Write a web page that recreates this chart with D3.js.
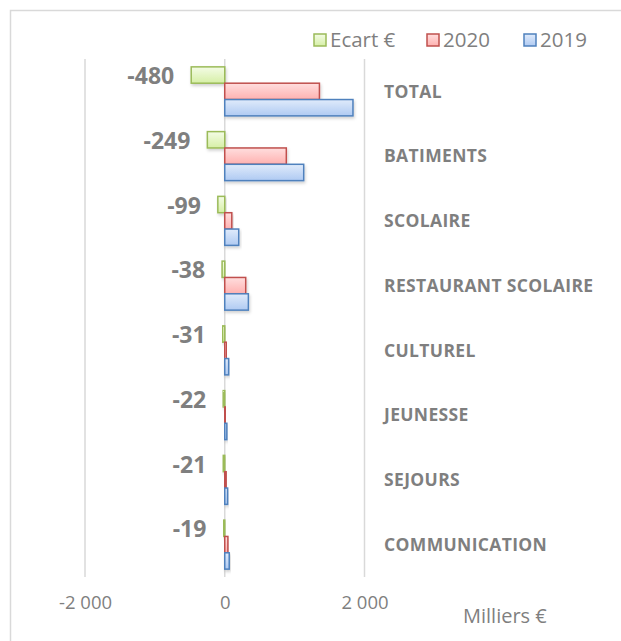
<!DOCTYPE html>
<html>
<head>
<meta charset="utf-8">
<script src="https://cdn.jsdelivr.net/npm/d3@7"></script>
<style>
  body { margin: 0; background: #fff; }
  text { font-family: "Open Sans", "Liberation Sans", sans-serif; }
</style>
</head>
<body>
<div id="chart"></div>
<script>
// data (milliers d'euros)
var categories = ["TOTAL", "BATIMENTS", "SCOLAIRE", "RESTAURANT SCOLAIRE", "CULTUREL", "JEUNESSE", "SEJOURS", "COMMUNICATION"];
var values2019 = [1835, 1130, 200, 338, 56, 30, 41, 64];
var values2020 = [1355, 881, 101, 300, 25, 8, 20, 45];
var ecart = [-480, -249, -99, -38, -31, -22, -21, -19];
var seriesNames = ["Ecart €", "2020", "2019"];
var ticks = [-2000, 0, 2000];

var svg = d3.select("#chart").append("svg")
  .attr("width", 621)
  .attr("height", 641);

// chart border
svg.append("rect")
  .attr("x", 10.5).attr("y", 10.5)
  .attr("width", 640).attr("height", 660)
  .attr("fill", "none")
  .attr("stroke", "#d9d9d9")
  .attr("stroke-width", 1.5);

var defs = svg.append("defs");
var colors = [
  { id: "gEcart", top: "#f4fce6", bot: "#d6efa6", stroke: "#9bbb59" },
  { id: "g2020", top: "#ffdede", bot: "#ffb1b0", stroke: "#c0504d" },
  { id: "g2019", top: "#e0ebfb", bot: "#afcaf2", stroke: "#4f81bd" }
];
colors.forEach(function (c) {
  var g = defs.append("linearGradient").attr("id", c.id)
    .attr("x1", 0).attr("y1", 0).attr("x2", 0).attr("y2", 1);
  g.append("stop").attr("offset", "0%").attr("stop-color", c.top);
  g.append("stop").attr("offset", "100%").attr("stop-color", c.bot);
});
var shadow = defs.append("filter").attr("id", "shadow")
  .attr("x", "-20%").attr("y", "-20%").attr("width", "140%").attr("height", "160%");
shadow.append("feDropShadow")
  .attr("dx", 1).attr("dy", 2).attr("stdDeviation", 1.5)
  .attr("flood-color", "#000").attr("flood-opacity", 0.18);

var x = d3.scaleLinear().domain([-2000, 2000]).range([85, 364.5]);

var y = d3.scaleBand()
  .domain(categories)
  .range([59, 577])
  .paddingInner(0.243)
  .paddingOuter(0.1215);

var sub = d3.scaleBand()
  .domain(seriesNames)
  .range([0, y.bandwidth()]);

// gridlines
svg.append("g")
  .selectAll("line")
  .data(ticks)
  .enter()
  .append("line")
  .attr("x1", d => x(d)).attr("x2", d => x(d))
  .attr("y1", 59).attr("y2", 577)
  .attr("stroke", "#d9d9d9")
  .attr("stroke-width", 1.5);

// x axis labels
var xAxis = d3.axisBottom(x)
  .tickValues(ticks)
  .tickSize(0)
  .tickPadding(0)
  .tickFormat(d => d3.format(",")(d).replace(",", " ").replace("\u2212", "-"));
var gx = svg.append("g")
  .attr("transform", "translate(0,595)")
  .call(xAxis);
gx.select(".domain").remove();
gx.selectAll("text")
  .attr("fill", "#7f7f7f")
  .style("font-size", "18.5px")
  .attr("dy", "0.75em");

svg.append("text")
  .attr("x", 463).attr("y", 623)
  .attr("fill", "#7f7f7f")
  .style("font-size", "20px")
  .text("Milliers €");

var series = [
  { name: "Ecart €", vals: ecart, c: colors[0] },
  { name: "2020", vals: values2020, c: colors[1] },
  { name: "2019", vals: values2019, c: colors[2] }
];

series.forEach(function (s) {
  svg.append("g")
    .selectAll("rect")
    .data(s.vals)
    .enter()
    .append("rect")
    .attr("x", d => x(Math.min(0, d)))
    .attr("y", (d, i) => y(categories[i]) + sub(s.name))
    .attr("width", d => Math.abs(x(d) - x(0)))
    .attr("height", sub.bandwidth())
    .attr("fill", "url(#" + s.c.id + ")")
    .attr("stroke", s.c.stroke)
    .attr("stroke-width", 1.5)
    .attr("filter", "url(#shadow)");
});

// ecart labels
svg.append("g")
  .selectAll("text")
  .data(ecart)
  .enter()
  .append("text")
  .attr("x", d => x(d) - 17)
  .attr("y", (d, i) => y(categories[i]) + sub("Ecart €") + sub.bandwidth() / 2 + 1)
  .attr("text-anchor", "end")
  .attr("dy", "0.35em")
  .attr("fill", "#7f7f7f")
  .style("font-size", "23px")
  .style("font-weight", "bold")
  .text(d => d);

// category labels
svg.append("g")
  .selectAll("text")
  .data(categories)
  .enter()
  .append("text")
  .attr("x", 384)
  .attr("y", d => y(d) + y.bandwidth() / 2)
  .attr("dy", "0.35em")
  .attr("fill", "#7f7f7f")
  .style("font-size", "17.5px")
  .style("font-weight", "bold")
  .style("letter-spacing", "0.35px")
  .text(d => d);

// legend
var legendX = [314, 427, 524];
var legend = svg.append("g")
  .selectAll("g")
  .data(series)
  .enter()
  .append("g")
  .attr("transform", (d, i) => "translate(" + legendX[i] + ",34)");
legend.append("rect")
  .attr("width", 12).attr("height", 12)
  .attr("fill", d => "url(#" + d.c.id + ")")
  .attr("stroke", d => d.c.stroke)
  .attr("stroke-width", 1.5);
legend.append("text")
  .attr("x", 16).attr("y", 6)
  .attr("dy", "0.35em")
  .attr("fill", "#7f7f7f")
  .style("font-size", "20.5px")
  .text(d => d.name);
</script>
</body>
</html>
